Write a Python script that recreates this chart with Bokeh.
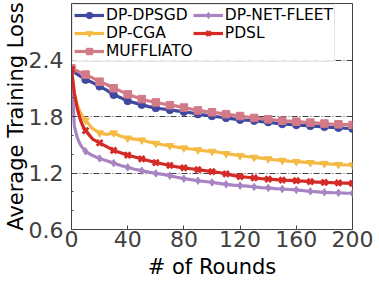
from bokeh.plotting import figure
from bokeh.models import (FixedTicker, Legend, LegendItem, ColumnDataSource, Range1d)
from bokeh.embed import file_html
from bokeh.resources import INLINE

rounds = [0, 2, 4, 6, 8, 10, 15, 20, 25, 30, 35, 40, 45, 50, 55, 60, 65, 70, 75, 80,
          85, 90, 95, 100, 105, 110, 115, 120, 125, 130, 135, 140, 145, 150, 155, 160,
          165, 170, 175, 180, 185, 190, 195, 200]

dp_dpsgd = [2.29, 2.27, 2.25, 2.23, 2.21, 2.19, 2.16, 2.12, 2.08, 2.03, 2.00, 1.965, 1.945,
            1.925, 1.905, 1.89, 1.88, 1.87, 1.86, 1.85, 1.84, 1.825, 1.815, 1.805, 1.795,
            1.785, 1.775, 1.765, 1.76, 1.755, 1.745, 1.74, 1.73, 1.72, 1.715, 1.71, 1.705,
            1.70, 1.695, 1.69, 1.685, 1.68, 1.675, 1.67]
muffliato = [2.31, 2.30, 2.285, 2.27, 2.26, 2.245, 2.21, 2.17, 2.14, 2.10, 2.07, 2.035, 2.01,
             1.985, 1.965, 1.95, 1.935, 1.92, 1.91, 1.895, 1.88, 1.865, 1.855, 1.845, 1.835,
             1.825, 1.815, 1.805, 1.795, 1.785, 1.778, 1.77, 1.763, 1.755, 1.75, 1.745, 1.74,
             1.735, 1.73, 1.725, 1.72, 1.717, 1.714, 1.71]
dp_cga = [2.30, 2.05, 1.93, 1.85, 1.80, 1.76, 1.67, 1.625, 1.61, 1.625, 1.59, 1.57, 1.56,
          1.55, 1.53, 1.515, 1.50, 1.49, 1.475, 1.465, 1.455, 1.445, 1.435, 1.43, 1.42,
          1.405, 1.395, 1.385, 1.375, 1.366, 1.358, 1.35, 1.34, 1.333, 1.326, 1.32, 1.315,
          1.31, 1.305, 1.30, 1.295, 1.29, 1.287, 1.285]
pdsl = [2.30, 2.05, 1.89, 1.78, 1.70, 1.65, 1.56, 1.52, 1.48, 1.44, 1.415, 1.39, 1.37,
        1.35, 1.33, 1.31, 1.295, 1.28, 1.265, 1.255, 1.245, 1.235, 1.225, 1.215, 1.205,
        1.19, 1.175, 1.162, 1.155, 1.148, 1.14, 1.135, 1.13, 1.125, 1.122, 1.118, 1.113,
        1.108, 1.104, 1.10, 1.097, 1.094, 1.092, 1.09]
dp_net_fleet = [2.30, 1.70, 1.58, 1.51, 1.465, 1.43, 1.385, 1.355, 1.33, 1.305, 1.28, 1.26,
                1.24, 1.225, 1.21, 1.196, 1.185, 1.172, 1.155, 1.14, 1.13, 1.118, 1.11, 1.10,
                1.09, 1.08, 1.072, 1.066, 1.06, 1.052, 1.045, 1.042, 1.035, 1.03, 1.025, 1.02,
                1.012, 1.005, 1.0, 0.995, 0.992, 0.99, 0.987, 0.985]

x_ticks = [0, 40, 80, 120, 160, 200]
y_ticks = [0.6, 1.2, 1.8, 2.4]
y_grid = [1.2, 1.8, 2.4]

series = [
    ("DP-DPSGD", dp_dpsgd, "#4049a0", "circle"),
    ("DP-CGA", dp_cga, "#f4ba45", "inverted_triangle"),
    ("MUFFLIATO", muffliato, "#d27a88", "square"),
    ("DP-NET-FLEET", dp_net_fleet, "#a984c2", "diamond"),
    ("PDSL", pdsl, "#d42b27", "x"),
]

FONT = "DejaVu Sans"

p = figure(width=379, height=283, output_backend="svg", toolbar_location=None,
           x_range=Range1d(0, 200), y_range=Range1d(0.6, 3.0),
           min_border_left=71, min_border_right=27, min_border_top=3, min_border_bottom=54)

p.xgrid.visible = False
p.ygrid.ticker = FixedTicker(ticks=y_grid)
p.ygrid.grid_line_color = "#222222"
p.ygrid.grid_line_dash = "6 2 1 2"
p.ygrid.grid_line_width = 1
p.ygrid.grid_line_alpha = 0.85

p.outline_line_color = "#444444"
p.outline_line_width = 1

p.xaxis.ticker = FixedTicker(ticks=x_ticks,
                             minor_ticks=[v for v in range(0, 201) if v % 40 != 0 and (v * 3) % 40 == 0])
p.yaxis.ticker = FixedTicker(ticks=y_ticks,
                             minor_ticks=[0.8, 1.0, 1.4, 1.6, 2.0, 2.2, 2.6, 2.8])
p.yaxis.major_label_overrides = {0.6: "0.6", 1.2: "1.2", 1.8: "1.8", 2.4: "2.4"}

for ax in (p.xaxis[0], p.yaxis[0]):
    ax.axis_line_color = "#444444"
    ax.major_tick_in = 4
    ax.major_tick_out = 0
    ax.minor_tick_in = 2
    ax.minor_tick_out = 0
    ax.major_tick_line_color = "#444444"
    ax.minor_tick_line_color = "#444444"
    ax.major_label_text_font = FONT
    ax.major_label_text_font_size = "22px"
    ax.major_label_text_color = "#404040"
    ax.axis_label_text_font = FONT
    ax.axis_label_text_font_size = "21px"
    ax.axis_label_text_font_style = "normal"
    ax.axis_label_text_color = "#000000"

p.xaxis.axis_label = "# of Rounds"
p.yaxis.axis_label = "Average Training Loss"
p.xaxis.major_label_standoff = 1
p.yaxis.major_label_standoff = 8
p.xaxis.axis_label_standoff = 5
p.yaxis.axis_label_standoff = -2

items = []
for name, vals, color, marker in series:
    src = ColumnDataSource(dict(x=rounds, y=vals))
    msrc = ColumnDataSource(dict(x=[r for r in rounds if r % 10 == 0],
                                 y=[v for r, v in zip(rounds, vals) if r % 10 == 0]))
    ln = p.line("x", "y", source=src, line_color=color, line_width=3.2)
    if marker == "x":
        sc = p.scatter("x", "y", source=msrc, marker="x", size=8, line_color=color,
                       line_width=3)
    else:
        sc = p.scatter("x", "y", source=msrc, marker=marker, size=7.5, fill_color=color,
                       line_color=color)
    items.append(LegendItem(label=name, renderers=[ln, sc]))

legend = Legend(items=items, location="top_left", orientation="vertical", nrows=3,
                margin=1, padding=1, spacing=0, glyph_width=30, glyph_height=16,
                label_height=16, label_standoff=2, label_text_font=FONT,
                label_text_font_size="15.5px", label_text_color="#000000",
                border_line_color="#cccccc", border_line_width=1, border_radius=3,
                background_fill_alpha=0.85)
p.add_layout(legend)

open("out.html", "w").write(file_html(p, INLINE))
